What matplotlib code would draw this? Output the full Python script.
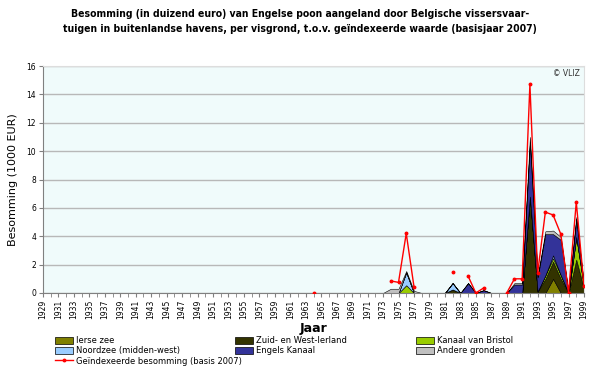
import numpy as np
import pandas as pd
import matplotlib.pyplot as plt
from matplotlib.patches import Patch
from matplotlib.lines import Line2D

# jaren op de x-as
jaren = list(range(1929, 2000))

# besomming per visgrond (1000 EUR), enkel jaren met vangst
ierse_zee = {1995: 1.0}
zuid_west_ierland = {1982: 0.25, 1992: 6.8, 1993: 0.1, 1994: 1.0, 1995: 1.2,
                     1996: 1.0, 1998: 2.35, 1999: 0.3}
kanaal_bristol = {1976: 0.55, 1994: 0.25, 1995: 0.25, 1996: 0.25, 1998: 1.6, 1999: 0.1}
noordzee_mw = {1976: 0.9, 1982: 0.45, 1995: 0.2}
engels_kanaal = {1984: 0.7, 1986: 0.2, 1990: 0.6, 1991: 0.6, 1992: 3.8, 1993: 1.0,
                 1994: 2.9, 1995: 1.5, 1996: 2.5, 1998: 1.25, 1999: 0.1}
andere_gronden = {1974: 0.3, 1975: 0.3, 1976: 0.1, 1977: 0.15, 1990: 0.1, 1991: 0.1,
                  1992: 0.4, 1993: 0.1, 1994: 0.2, 1995: 0.25, 1996: 0.2, 1998: 0.15}

# geindexeerde besomming (basis 2007), ontbrekende jaren blijven leeg
geindexeerd = {1964: 0.0, 1974: 0.85, 1975: 0.75, 1976: 4.2, 1977: 0.45, 1982: 1.45,
               1984: 1.2, 1985: 0.0, 1986: 0.35, 1989: 0.0, 1990: 1.0, 1991: 1.0,
               1992: 14.7, 1993: 1.4, 1994: 5.7, 1995: 5.5, 1996: 4.15, 1997: 0.0,
               1998: 6.4, 1999: 0.5}

namen = ["Ierse zee", "Zuid- en West-Ierland", "Kanaal van Bristol",
         "Noordzee (midden-west)", "Engels Kanaal", "Andere gronden"]
kleuren = ["#808000", "#333300", "#99CC00", "#99CCFF", "#333399", "#C0C0C0"]

reeksen = [ierse_zee, zuid_west_ierland, kanaal_bristol, noordzee_mw,
           engels_kanaal, andere_gronden]
df = pd.DataFrame({n: pd.Series(r) for n, r in zip(namen, reeksen)}).reindex(jaren).fillna(0)
rood = pd.Series(geindexeerd).reindex(jaren)

fig = plt.figure(figsize=(6, 3.68), dpi=100)
ax = fig.add_axes([43 / 600, 1 - 293 / 368, 541 / 600, 227 / 368])
ax.set_facecolor("#F0FBFB")

ax.stackplot(df.index, [df[n] for n in namen], colors=kleuren,
             edgecolor="black", linewidth=0.4, zorder=2)
ax.plot(rood.index, rood.values, color="red", linewidth=1.0,
        marker="o", markersize=1.8, zorder=3)

ax.set_xlim(1929, 1999)
ax.set_ylim(0, 16)
ax.set_yticks(range(0, 17, 2))
ax.set_xticks(range(1929, 2000, 2))
ax.set_xticks(range(1929, 2000), minor=True)
ax.tick_params(axis="x", which="both", length=3, direction="out", color="#808080",
               labelsize=5.5, rotation=90, pad=2)
ax.tick_params(axis="y", length=3, color="#808080", labelsize=5.5, pad=2)
ax.grid(axis="y", color="#B8B8B8", linewidth=1.0, zorder=1)
ax.set_axisbelow(True)
for s in ["left", "bottom"]:
    ax.spines[s].set_color("#808080")
for s in ["top", "right"]:
    ax.spines[s].set_color("#DDDDDD")

ax.set_ylabel("Besomming (1000 EUR)", fontsize=8, labelpad=6)
ax.set_xlabel("Jaar", fontsize=9, fontweight="bold", labelpad=2)
ax.text(0.993, 0.985, "© VLIZ", transform=ax.transAxes, ha="right", va="top",
        fontsize=5.5, color="#333333")

fig.text(0.5, 0.975, "Besomming (in duizend euro) van Engelse poon aangeland door Belgische vissersvaar-\n"
         "tuigen in buitenlandse havens, per visgrond, t.o.v. geïndexeerde waarde (basisjaar 2007)",
         ha="center", va="top", fontsize=7.5, fontweight="bold",
         family="DejaVu Sans", fontstretch="condensed", linespacing=1.6)

# legende in drie kolommen
handles = [Patch(facecolor=c, edgecolor="black", linewidth=0.5) for c in kleuren]
lijn = Line2D([], [], color="red", linewidth=1.0, marker="o", markersize=1.8)
kolommen = [
    ([handles[0], handles[3], lijn], [namen[0], namen[3], "Geïndexeerde besomming (basis 2007)"], 55),
    ([handles[1], handles[4]], [namen[1], namen[4]], 235),
    ([handles[2], handles[5]], [namen[2], namen[5]], 416),
]
for h, l, x in kolommen:
    fig.legend(h, l, loc="upper left", bbox_to_anchor=(x / 600, 1 - 336 / 368),
               frameon=False, fontsize=6, handlelength=2.2, handleheight=0.9,
               handletextpad=0.3, labelspacing=0.15, borderpad=0, borderaxespad=0)

fig.savefig("out.png", dpi=100)
